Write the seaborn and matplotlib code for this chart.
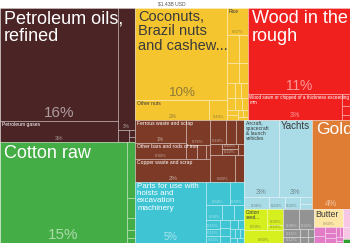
import matplotlib
matplotlib.use("Agg")
import matplotlib.pyplot as plt
import seaborn as sns
from matplotlib.patches import Rectangle

total_label = "$1.43B USD"

# export shares in % of total, section -> HS group -> product
mineral = [
    [("Petroleum oils,\nrefined", 16.0), ("Petroleum gases", 3.0)],
    [("", 2.6), ("", 0.17), ("", 0.05), ("", 0.04)],
]
textiles = [
    [("Cotton raw", 15.4)],
    [("", 0.55), ("", 0.2), ("", 0.12), ("", 0.08), ("", 0.05)],
]
vegetable = [
    [("Coconuts,\nBrazil nuts\nand cashew...", 10.2), ("Other nuts", 1.75), ("", 0.43)],
    [("Rice", 0.67), ("", 0.39), ("", 0.30), ("", 0.28), ("", 0.2), ("", 0.15),
     ("", 0.12), ("", 0.12), ("", 0.1), ("", 0.1), ("", 0.08), ("", 0.07),
     ("", 0.06), ("", 0.05), ("", 0.04), ("", 0.03)],
]
wood = [
    [("Wood in the\nrough", 10.6)],
    [("Wood sawn or chipped of a thickness exceeding 6\nmm", 2.9), ("", 0.12),
     ("", 0.08), ("", 0.05)],
]
metals = [
    [("Ferrous waste and scrap", 1.43), ("Other bars and rods of iron", 0.93),
     ("", 0.75), ("", 0.19), ("", 0.15), ("", 0.08)],
    [("Copper waste and scrap", 2.1)],
    [("", 0.44), ("", 0.29), ("", 0.25), ("", 0.15), ("", 0.1), ("", 0.1), ("", 0.08)],
    [("", 0.8), ("", 0.31)],
]
machines = [
    [("Parts for use with\nhoists and\nexcavation\nmachinery", 5.2)],
    [("", 0.64), ("", 0.39), ("", 0.3), ("", 0.22), ("", 0.19), ("", 0.15),
     ("", 0.12), ("", 0.11), ("", 0.1), ("", 0.1), ("", 0.08), ("", 0.08),
     ("", 0.07), ("", 0.06), ("", 0.05), ("", 0.05), ("", 0.04), ("", 0.04)],
]
transportation = [
    [("Aircraft,\nspacecraft\n& launch\nvehicles", 3.2), ("Yachts", 3.1),
     ("", 0.36), ("", 0.23), ("", 0.22), ("", 0.1), ("", 0.08)],
]
precious_metals = [[("Gold", 4.1)]]
foodstuffs = [
    [("Cotton\nseed...", 0.59), ("", 0.3), ("", 0.1)],
    [("", 0.6)],
]
miscellaneous = [
    [("", 0.38), ("", 0.35), ("", 0.15), ("", 0.12), ("", 0.08), ("", 0.06),
     ("", 0.05), ("", 0.04)],
]
animal_veg = [[("Butter", 0.63)]]
chemicals = [
    [("", 0.12), ("", 0.1), ("", 0.08), ("", 0.07), ("", 0.06), ("", 0.05),
     ("", 0.04), ("", 0.03), ("", 0.02)],
]
plastics = [[("", 0.15), ("", 0.1)]]
other = [[("", 0.03)]]

section_items = [mineral, textiles, vegetable, wood, metals, machines,
                 transportation, precious_metals, foodstuffs, miscellaneous,
                 animal_veg, chemicals, plastics, other]
section_colors = ["#4b2426", "#45ad45", "#f5c530", "#f0201f", "#7d3b27",
                  "#3fc4d4", "#a9dce6", "#df7d34", "#d6ef1f", "#939393",
                  "#fde6a6", "#e27cc6", "#f6c6e4", "#2ca02c"]

# label sizes (pt) for the named products
name_sizes = {
    "Petroleum oils,\nrefined": 13, "Petroleum gases": 3.6,
    "Coconuts,\nBrazil nuts\nand cashew...": 10.5, "Other nuts": 3.6, "Rice": 3.6,
    "Wood in the\nrough": 13,
    "Wood sawn or chipped of a thickness exceeding 6\nmm": 3.3,
    "Cotton raw": 13, "Ferrous waste and scrap": 3.6,
    "Other bars and rods of iron": 3.6, "Copper waste and scrap": 3.6,
    "Parts for use with\nhoists and\nexcavation\nmachinery": 5.8,
    "Aircraft,\nspacecraft\n& launch\nvehicles": 3.6, "Yachts": 7,
    "Gold": 12.5, "Cotton\nseed...": 3.3, "Butter": 6.3,
}

PHI = (1 + 5 ** 0.5) / 2


def worst(areas, u):
    s = sum(areas)
    return max(u * u * max(areas) * PHI / (s * s), s * s / (u * u * min(areas) * PHI))


def place(row, rect, out, flush):
    x, y, dx, dy = rect
    area = sum(a for _, a in row)
    if dx <= dy:
        h = dy if flush else min(area / dx, dy)
        cx = x
        for k, (i, a) in enumerate(row):
            w = a / h if k < len(row) - 1 else x + dx - cx
            out[i] = (cx, y, w, h)
            cx += w
        return (x, y + h, dx, dy - h)
    v = dx if flush else min(area / dy, dx)
    cy = y
    for k, (i, a) in enumerate(row):
        hh = a / v if k < len(row) - 1 else y + dy - cy
        out[i] = (x, cy, v, hh)
        cy += hh
    return (x + v, y, dx - v, dy)


def squarify(values, rect):
    """Squarified treemap layout (golden ratio), largest first."""
    scale = rect[2] * rect[3] / sum(values)
    order = sorted(range(len(values)), key=lambda i: -values[i])
    out = [None] * len(values)
    row, best, k = [], float("inf"), 0
    while k < len(order):
        i = order[k]
        cand = row + [(i, values[i] * scale)]
        score = worst([a for _, a in cand], min(rect[2], rect[3]))
        if score <= best:
            row, best = cand, score
            k += 1
        else:
            rect = place(row, rect, out, False)
            row, best = [], float("inf")
    if row:
        place(row, rect, out, True)
    return out


sns.set_theme(style="white")
plt.rcParams["font.family"] = ["Liberation Sans", "DejaVu Sans"]

fig = plt.figure(figsize=(3.5, 2.43), dpi=100)
ax = fig.add_axes([0, 0, 1, 1])
ax.set_xlim(0, 350)
ax.set_ylim(243, 0)
ax.axis("off")

ax.text(172, 4, total_label, ha="center", va="center", fontsize=3.6,
        color="#555555", parse_math=False)

sec_totals = [sum(v for g in groups for _, v in g) for groups in section_items]
sec_rects = squarify(sec_totals, (0, 8, 350, 235))

for color, groups, srect in zip(section_colors, section_items, sec_rects):
    tc = "#3a3a3a" if sns.utils.relative_luminance(color) > 0.5 else "white"
    g_rects = squarify([sum(v for _, v in g) for g in groups], srect)
    for group, grect in zip(groups, g_rects):
        p_rects = squarify([v for _, v in group], grect)
        for (name, share), (x, y, w, h) in zip(group, p_rects):
            ax.add_patch(Rectangle((x, y), w, h, facecolor=color,
                                   edgecolor=(1, 1, 1, 0.4), lw=0.5))
            used = 0
            fs = name_sizes.get(name)
            if fs:
                pad = max(1.5, fs * 0.3)
                t = ax.text(x + pad, y + pad * 0.6, name, fontsize=fs, color=tc,
                            va="top", ha="left", linespacing=1.03)
                t.set_clip_path(Rectangle((x, y), w + 5, h, transform=ax.transData))
                used = pad + (name.count("\n") + 1) * fs * 1.05 * 100 / 72
            pct = f"{share:.0f}%" if share >= 1 else f"{share:.2f}%"
            pfs = max(3.0, min(11, (w * h) ** 0.5 / 9.5, min(w, h) / 5))
            px = pfs * 100 / 72
            if len(pct) * 0.55 * px + 1 < w and px * 1.2 + used < h:
                ax.text(x + w / 2, y + h - 1, pct, ha="center", va="bottom",
                        fontsize=pfs, color=tc, alpha=0.55)

fig.savefig("out.png", dpi=100)
